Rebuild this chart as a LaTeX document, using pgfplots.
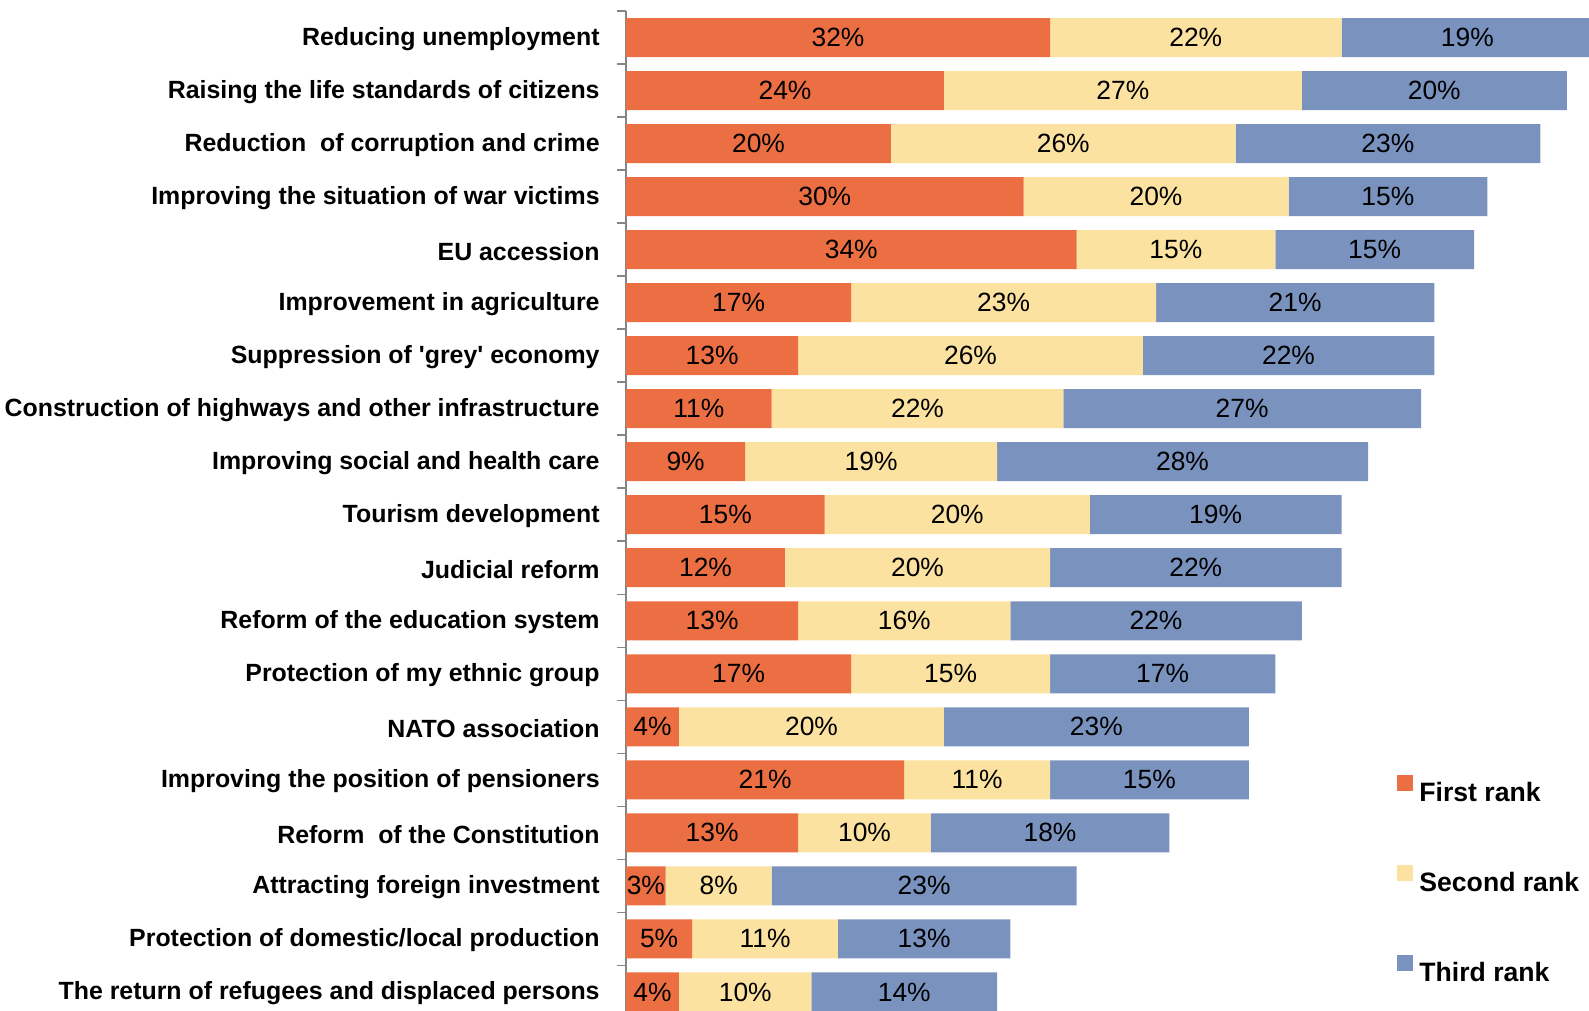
\documentclass[border=0pt]{standalone}
\usepackage{pgfplots}
\pgfplotsset{compat=1.18}
\usepackage{pgfplotstable}
\usepackage{fontspec}
\setmainfont{Liberation Sans}
\definecolor{c1}{HTML}{EC6F44}
\definecolor{c2}{HTML}{FCE2A0}
\definecolor{c3}{HTML}{7A92BE}
\definecolor{axgray}{HTML}{868686}

\pgfplotstableread{
idx f s t
0 32 22 19
1 24 27 20
2 20 26 23
3 30 20 15
4 34 15 15
5 17 23 21
6 13 26 22
7 11 22 27
8 9 19 28
9 15 20 19
10 12 20 22
11 13 16 22
12 17 15 17
13 4 20 23
14 21 11 15
15 13 10 18
16 3 8 23
17 5 11 13
18 4 10 14
}\data

\pgfplotsset{
  sqleg/.style={legend image code/.code={\fill[##1] (0pt,0.5pt) rectangle (8pt,8.5pt);}},
  seglabel/.style={
    visualization depends on={\thisrow{#1} \as \val},
    point meta=explicit,
    nodes near coords={\pgfmathprintnumber[assume math mode=true]{\val}\%},
    nodes near coords align={center},
    every node near coord/.append style={font=\fontsize{13.2}{15}\selectfont, text=black, inner sep=0pt},
  },
}

\begin{document}
\begin{tikzpicture}
\begin{axis}[
  name=ax,
  scale only axis, width=486.94pt, height=500pt,
  xbar stacked, bar width=19.5pt,
  xmin=0, xmax=73.5,
  ymin=-0.5, ymax=18.36, y dir=reverse,
  hide x axis,
  axis y line*=left,
  y axis line style={draw=axgray, line width=0.75pt},
  ytick={0,...,18},
  yticklabels={
    Reducing unemployment,
    Raising the life standards of citizens,
    Reduction\ \ of corruption and crime,
    Improving the situation of war victims,
    EU accession,
    Improvement in agriculture,
    Suppression of \textquotesingle grey\textquotesingle{} economy,
    Construction of highways and other infrastructure,
    Improving social and health care,
    Tourism development,
    Judicial reform,
    Reform of the education system,
    Protection of my ethnic group,
    NATO association,
    Improving the position of pensioners,
    Reform\ \ of the Constitution,
    Attracting foreign investment,
    Protection of domestic/local production,
    The return of refugees and displaced persons},
  major tick length=0pt,
  minor ytick={-0.5,0.5,...,17.5},
  minor tick length=4.5pt,
  tick align=outside,
  minor tick style={draw=axgray, line width=0.75pt},
  major tick style={draw=none},
  yticklabel style={font=\fontsize{12.45}{14}\selectfont\bfseries, inner sep=0pt, xshift=-13pt, yshift=-0.75pt},
  legend style={at={(axis cs:58.19,15.85)}, anchor=west, draw=none, fill=none, inner sep=0pt,
    font=\fontsize{13.3}{15}\selectfont\bfseries, row sep=31.7pt,
    nodes={inner sep=0pt, text height=9.5pt, text depth=0pt},
    /tikz/every odd column/.append style={column sep=3pt}},
  legend cell align=left,
]
\addplot[fill=c1, draw=none, sqleg, seglabel=f] table[x=f, y=idx, meta=f] {\data};
\addplot[fill=c2, draw=none, sqleg, seglabel=s] table[x=s, y=idx, meta=s] {\data};
\addplot[fill=c3, draw=none, sqleg, seglabel=t] table[x=t, y=idx, meta=t] {\data};
\legend{First rank, Second rank, Third rank}
\end{axis}
\pgfresetboundingbox
\path[use as bounding box] ([xshift=-313pt]ax.south west) rectangle ([xshift=481.5pt,yshift=5.5pt]ax.north west);
\end{tikzpicture}
\end{document}
